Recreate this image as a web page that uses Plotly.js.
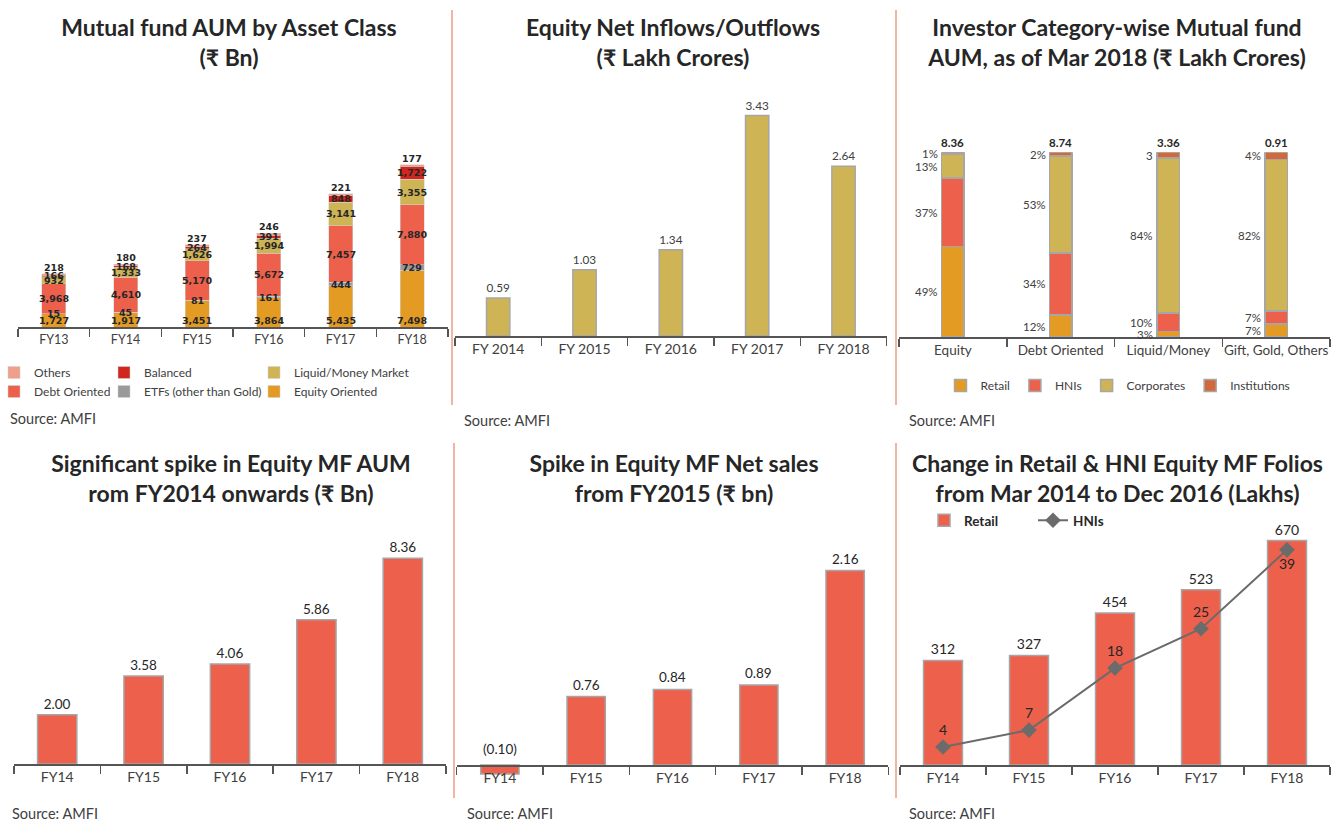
<!DOCTYPE html>
<html><head><meta charset="utf-8">
<script src="https://cdn.plot.ly/plotly-3.0.1.min.js"></script>
<style>
body{margin:0;background:#fff;width:1337px;height:822px;overflow:hidden;position:relative}
.c{position:absolute}
.sep{position:absolute;width:1.5px;background:#F2B5A5;z-index:5}
</style></head><body>
<div id="c1" class="c" style="left:-20px;top:0;width:470px;height:430px"></div>
<div id="c2" class="c" style="left:451px;top:0;width:444px;height:430px"></div>
<div id="c3" class="c" style="left:895px;top:0;width:442px;height:430px"></div>
<div id="c4" class="c" style="left:0;top:430px;width:453px;height:392px"></div>
<div id="c5" class="c" style="left:453px;top:430px;width:442px;height:392px"></div>
<div id="c6" class="c" style="left:895px;top:430px;width:442px;height:392px"></div>
<div class="sep" style="left:451px;top:10px;height:395px"></div>
<div class="sep" style="left:895px;top:10px;height:395px"></div>
<div class="sep" style="left:453px;top:443px;height:355px"></div>
<div class="sep" style="left:895px;top:443px;height:355px"></div>
<script>
// ---------- DATA ----------
const aumYears = ['FY13','FY14','FY15','FY16','FY17','FY18'];
const aumEquity = [1727,1917,3451,3864,5435,7498];
const aumETF = [15,45,81,161,444,729];
const aumDebt = [3968,4610,5170,5672,7457,7880];
const aumLiquid = [932,1333,1626,1994,3141,3355];
const aumBalanced = [166,168,264,391,848,1722];
const aumOthers = [218,180,237,246,221,177];

const flowYears = ['FY 2014','FY 2015','FY 2016','FY 2017','FY 2018'];
const flowValues = [0.59,1.03,1.34,3.43,2.64];

const invCats = ['Equity','Debt Oriented','Liquid/Money','Gift, Gold, Others'];
const invRetail = [49,12,3,7];
const invHNI = [37,34,10,7];
const invCorp = [13,53,84,82];
const invInst = [1,2,3,4];
const invInstLabels = ['1%','2%','3','4%'];
const invTotals = [8.36,8.74,3.36,0.91];

const eqYears = ['FY14','FY15','FY16','FY17','FY18'];
const eqAum = [2.00,3.58,4.06,5.86,8.36];
const eqNetSales = [-0.10,0.76,0.84,0.89,2.16];

const folioYears = ['FY14','FY15','FY16','FY17','FY18'];
const retailFolios = [312,327,454,523,670];
const hniFolios = [4,7,18,25,39];

// ---------- STYLE HELPERS ----------
const FONT = 'Lato, "Noto Sans", "DejaVu Sans", sans-serif';
const DARK = '#262626', GREY = '#404040', AXIS = '#555555', OUTLINE = '#A6A6A6';
const C_EQ = '#E39B23', C_DEBT = '#EC604C', C_LIQ = '#CEB455', C_BAL = '#D1261D', C_OTH = '#F0A08A', C_ETF = '#9A9A9A', C_INST = '#D2693A';
const cfg = {staticPlot:true, displayModeBar:false};

function xd(a,b,W){return [a/W,b/W];}
function yd(top,bot,H){return [1-bot/H,1-top/H];}
function title(text,cx,W,top,H){return {text:text,x:cx/W,xref:'paper',xanchor:'center',y:1-top/H,yref:'container',yanchor:'top',font:{family:FONT,size:23,weight:'bold',color:DARK}};}
function catAxis(domain,size){return {domain:domain,type:'category',showline:true,linecolor:AXIS,linewidth:1.5,ticks:'outside',tickson:'boundaries',ticklen:8,tickcolor:AXIS,tickwidth:1.5,showgrid:false,zeroline:false,tickangle:0,tickfont:{family:FONT,size:size,color:GREY},fixedrange:true,automargin:false};}
function valAxis(domain,range){return {domain:domain,range:range,visible:false,showgrid:false,zeroline:false,fixedrange:true};}
function source(x,y,W,H){return {text:'Source: AMFI',x:x/W,y:1-y/H,xref:'paper',yref:'paper',xanchor:'left',yanchor:'middle',showarrow:false,font:{family:FONT,size:14.5,color:GREY}};}
function base(W,H){return {width:W,height:H,margin:{l:0,r:0,t:0,b:0,autoexpand:false},paper_bgcolor:'rgba(0,0,0,0)',plot_bgcolor:'rgba(0,0,0,0)',hovermode:false};}
const fmtK = v => v.toLocaleString('en-US');

// ---------- CHART 1 ---------- (div starts 20px left of the page)
(function(){
  const W=470,H=430,O=20;
  const lblFont = {family:'"DejaVu Sans", sans-serif',size:9.5,weight:'bold',color:DARK};
  const series=[
    ['Equity Oriented',aumEquity,C_EQ,'legend3'],
    ['ETFs (other than Gold)',aumETF,C_ETF,'legend2'],
    ['Debt Oriented',aumDebt,C_DEBT,'legend'],
    ['Liquid/Money Market',aumLiquid,C_LIQ,'legend3'],
    ['Balanced',aumBalanced,C_BAL,'legend2'],
    ['Others',aumOthers,C_OTH,'legend']
  ];
  const traces=series.map(s=>({type:'bar',name:s[0],x:aumYears,y:s[1],legend:s[3],
    marker:{color:s[2],line:{color:'rgba(210,210,210,0.9)',width:0.6}}}));
  // value labels, drawn above all bars, placed from the stacked data
  const ann=[];
  aumYears.forEach((yr,i)=>{
    let cum=0;
    series.forEach((s,k)=>{
      const v=s[1][i];
      let y, anchor='middle';
      if(k===0){y=0;anchor='bottom';}
      else if(k===series.length-1){y=cum+v;anchor='bottom';}
      else {y=cum+v/2;}
      cum+=v;
      ann.push({x:i,y:y,xref:'x',yref:'y',text:fmtK(v),xanchor:'center',yanchor:anchor,showarrow:false,font:lblFont,borderpad:0});
    });
  });
  ann.push(source(8+O,418,W,H));
  const lg = x => ({x:(x+O)/W,y:1-358/H,xanchor:'left',yanchor:'top',orientation:'v',traceorder:'reversed',bgcolor:'rgba(0,0,0,0)',font:{family:FONT,size:12,color:GREY},tracegroupgap:0});
  const layout=Object.assign(base(W,H),{
    title:title('Mutual fund AUM by Asset Class<br>(₹ Bn)',229+O,W,36,H),
    barmode:'stack',bargap:0.665,
    xaxis:catAxis(xd(18+O,448+O,W),12.5),
    yaxis:valAxis(yd(149.5,327,H),[0,23400]),
    showlegend:true,
    legend:lg(-6),legend2:lg(104),legend3:lg(254),
    annotations:ann
  });
  Plotly.newPlot('c1',traces,layout,cfg);
})();

// ---------- CHART 2 ----------
(function(){
  const W=444,H=430;
  const traces=[{type:'bar',x:flowYears,y:flowValues,marker:{color:C_LIQ,line:{color:OUTLINE,width:1.5}},
    texttemplate:'%{y:.2f}',textposition:'outside',cliponaxis:false,outsidetextfont:{family:FONT,size:12,color:GREY},showlegend:false}];
  const layout=Object.assign(base(W,H),{
    title:title('Equity Net Inflows/Outflows<br>(₹ Lakh Crores)',222,W,36,H),
    bargap:0.73,
    xaxis:catAxis(xd(4,435.7,W),14),
    yaxis:valAxis(yd(91.7,336,H),[0,3.8]),
    annotations:[source(11,420,W,H)]
  });
  Plotly.newPlot('c2',traces,layout,cfg);
})();

// ---------- CHART 3 ----------
(function(){
  const W=442,H=430;
  const series=[['Retail',invRetail,C_EQ],['HNIs',invHNI,C_DEBT],['Corporates',invCorp,C_LIQ],['Institutions',invInst,C_INST]];
  const traces=series.map(s=>({type:'bar',name:s[0],x:invCats,y:s[1],marker:{color:s[2],line:{color:OUTLINE,width:1.5}}}));
  const labels=[invRetail.map(v=>v+'%'),invHNI.map(v=>v+'%'),invCorp.map(v=>v+'%'),invInstLabels];
  const ann=[];
  invCats.forEach((c,i)=>{
    const tot=series.reduce((s,a)=>s+a[1][i],0);
    let cum=0;
    series.forEach((s,k)=>{
      const mid=(cum+s[1][i]/2)/tot*100; cum+=s[1][i];
      ann.push({x:i,y:mid,xref:'x',yref:'y',text:labels[k][i],xanchor:'right',yanchor:'middle',xshift:-13,showarrow:false,font:{family:FONT,size:11.5,color:GREY}});
    });
    ann.push({x:i,y:100,xref:'x',yref:'y',text:invTotals[i].toFixed(2),xanchor:'center',yanchor:'bottom',yshift:1,showarrow:false,font:{family:FONT,size:11.5,weight:'bold',color:DARK}});
  });
  ann.push(source(12,420,W,H));
  const layout=Object.assign(base(W,H),{
    title:title('Investor Category-wise Mutual fund<br>AUM, as of Mar 2018 (₹ Lakh Crores)',222,W,36,H),
    barmode:'stack',barnorm:'percent',bargap:0.79,
    xaxis:catAxis(xd(4,435,W),13.5),
    yaxis:valAxis(yd(152.3,337,H),[0,100]),
    showlegend:true,
    legend:{orientation:'h',traceorder:'normal',x:223/W,xanchor:'center',y:1-371/H,yanchor:'top',font:{family:FONT,size:12,color:GREY},bgcolor:'rgba(0,0,0,0)'},
    annotations:ann
  });
  Plotly.newPlot('c3',traces,layout,cfg);
})();

// ---------- CHART 4 ----------
(function(){
  const W=453,H=392;
  const traces=[{type:'bar',x:eqYears,y:eqAum,marker:{color:C_DEBT,line:{color:OUTLINE,width:1.5}},
    texttemplate:'%{y:.2f}',textposition:'outside',cliponaxis:false,outsidetextfont:{family:FONT,size:13.5,color:DARK},showlegend:false}];
  const layout=Object.assign(base(W,H),{
    title:title('Significant spike in Equity MF AUM<br>rom FY2014 onwards (₹ Bn)',231,W,42,H),
    bargap:0.545,
    xaxis:catAxis(xd(14,446,W),14),
    yaxis:valAxis(yd(100.3,334,H),[0,9.5]),
    annotations:[source(10,383,W,H)]
  });
  Plotly.newPlot('c4',traces,layout,cfg);
})();

// ---------- CHART 5 ----------
(function(){
  const W=442,H=392;
  const yr=[-0.2,2.6], ydom=yd(101,353,H);
  const axisPos = ydom[0]+(0-yr[0])/(yr[1]-yr[0])*(ydom[1]-ydom[0]);
  const traces=[{type:'bar',x:eqYears,y:eqNetSales,marker:{color:C_DEBT,line:{color:OUTLINE,width:1.5}},showlegend:false,cliponaxis:false}];
  const ann=eqNetSales.map((v,i)=>({x:i,y:Math.max(v,0),xref:'x',yref:'y',text:v<0?'('+Math.abs(v).toFixed(2)+')':v.toFixed(2),
    xanchor:'center',yanchor:'bottom',yshift:v<0?6:2,showarrow:false,font:{family:FONT,size:13.5,color:DARK}}));
  ann.push(source(12,383,W,H));
  const xa=catAxis(xd(3.7,435.3,W),14); xa.anchor='free'; xa.position=axisPos;
  const layout=Object.assign(base(W,H),{
    title:title('Spike in Equity MF Net sales<br>from FY2015 (₹ bn)',221,W,42,H),
    bargap:0.556,
    xaxis:xa,
    yaxis:valAxis(ydom,yr),
    annotations:ann
  });
  Plotly.newPlot('c5',traces,layout,cfg);
})();

// ---------- CHART 6 ----------
(function(){
  const W=442,H=392;
  const ydom=yd(80.4,335,H);
  const traces=[
    {type:'bar',name:'Retail',x:folioYears,y:retailFolios,marker:{color:C_DEBT,line:{color:OUTLINE,width:1.5}},
     texttemplate:'%{y}',textposition:'outside',cliponaxis:false,outsidetextfont:{family:FONT,size:14,color:DARK}},
    {type:'scatter',mode:'lines+markers+text',name:'HNIs',x:folioYears,y:hniFolios,yaxis:'y2',
     line:{color:'#6B6B6B',width:2},marker:{symbol:'diamond',size:12,color:'#6B6B6B'},
     text:hniFolios.map(String),textposition:['top center','top center','top center','top center','bottom center'],
     textfont:{family:FONT,size:14,color:DARK},cliponaxis:false}
  ];
  const layout=Object.assign(base(W,H),{
    title:title('Change in Retail &amp; HNI Equity MF Folios<br>from Mar 2014 to Dec 2016 (Lakhs)',222.5,W,42,H),
    bargap:0.547,
    xaxis:catAxis(xd(5,435,W),14),
    yaxis:valAxis(ydom,[0,760]),
    yaxis2:Object.assign(valAxis(ydom,[0.8,46]),{overlaying:'y'}),
    showlegend:true,
    legend:{orientation:'h',x:29/W,xanchor:'left',y:1-75/H,yanchor:'top',entrywidth:64,font:{family:FONT,size:13.5,weight:'bold',color:DARK},bgcolor:'rgba(0,0,0,0)'},
    annotations:[source(12,383,W,H)]
  });
  Plotly.newPlot('c6',traces,layout,cfg);
})();
</script>
</body></html>
